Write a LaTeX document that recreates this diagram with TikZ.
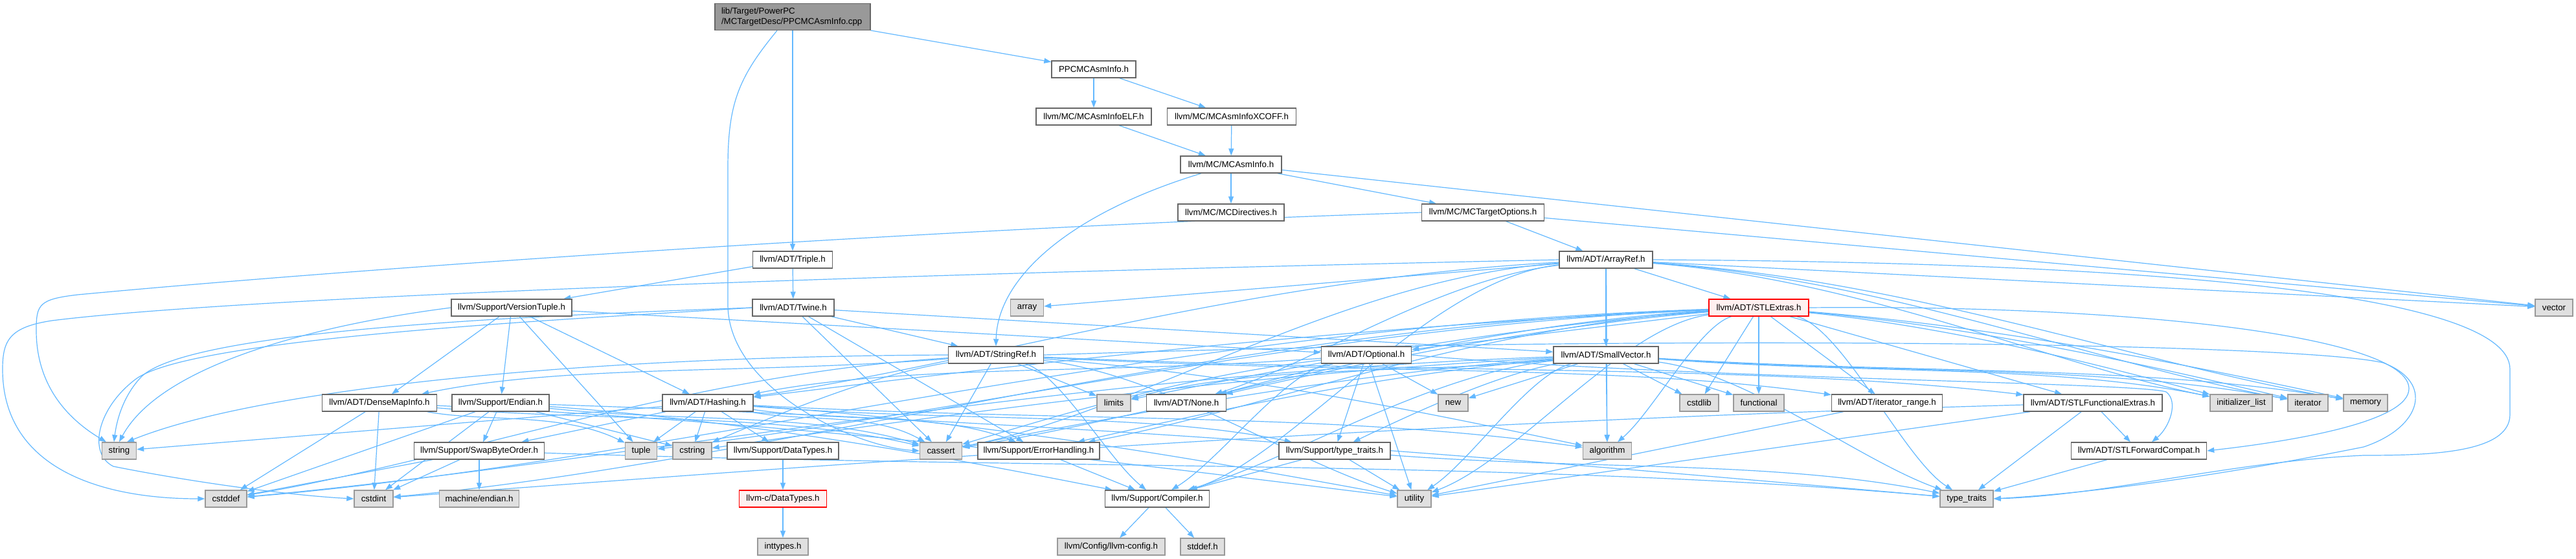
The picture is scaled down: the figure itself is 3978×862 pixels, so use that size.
\documentclass[tikz,border=0pt]{standalone}
\usepackage{fontspec}
\setmainfont{Liberation Sans}
\usetikzlibrary{arrows.meta,backgrounds,calc}
\definecolor{edgeblue}{HTML}{63B8FF}
\definecolor{boxborder}{HTML}{666666}
\definecolor{sysborder}{HTML}{999999}
\definecolor{sysfill}{HTML}{E0E0E0}
\definecolor{mainfill}{HTML}{999999}
\definecolor{redfill}{HTML}{FFF0F0}
\begin{document}
\begin{tikzpicture}[x=1pt,y=-1pt,
  box/.style={draw=boxborder, fill=white, line width=1.4pt, minimum height=26pt, inner sep=0pt, font=\fontsize{13.3}{16}\selectfont},
  sys/.style={box, draw=sysborder, fill=sysfill},
  trunc/.style={box, draw=red, fill=redfill},
  e/.style={draw=edgeblue, line width=1.2pt, -{Triangle[length=11pt,width=8pt]}},
  longe/.style={e, to path={.. controls ($(\tikztostart)!0.4!(\tikztotarget|-\tikztostart)+(0,30)$) and ($(\tikztotarget)!0.3!(\tikztostart|-\tikztotarget)+(0,-60)$) .. (\tikztotarget)}},
]
\useasboundingbox (0,0) rectangle (3978,862);
% nodes
\node[box, fill=mainfill, minimum width=240pt, minimum height=41pt, text width=220pt, align=left] (main) at (1224,26) {lib/Target/PowerPC\\/MCTargetDesc/PPCMCAsmInfo.cpp};
\node[box, minimum width=130pt] (ppc) at (1689,107) {PPCMCAsmInfo.h};
\node[box, minimum width=178pt] (elf) at (1689,180) {llvm/MC/MCAsmInfoELF.h};
\node[box, minimum width=199pt] (xcoff) at (1902,180) {llvm/MC/MCAsmInfoXCOFF.h};
\node[box, minimum width=156pt] (mcasm) at (1901,254) {llvm/MC/MCAsmInfo.h};
\node[box, minimum width=164pt] (mcdir) at (1901,328) {llvm/MC/MCDirectives.h};
\node[box, minimum width=189pt] (mcto) at (2290,328) {llvm/MC/MCTargetOptions.h};
\node[box, minimum width=123pt] (triple) at (1224,401) {llvm/ADT/Triple.h};
\node[box, minimum width=144pt] (arrayref) at (2480,401) {llvm/ADT/ArrayRef.h};
\node[box, minimum width=186pt] (version) at (790,475) {llvm/Support/VersionTuple.h};
\node[box, minimum width=126pt] (twine) at (1225,475) {llvm/ADT/Twine.h};
\node[sys, minimum width=51pt] (array) at (1586,475) {array};
\node[trunc, minimum width=154pt] (stlextras) at (2716,475) {llvm/ADT/STLExtras.h};
\node[sys, minimum width=58pt] (vector) at (3944,475) {vector};
\node[box, minimum width=147pt] (stringref) at (1538,548) {llvm/ADT/StringRef.h};
\node[box, minimum width=139pt] (optional) at (2110,548) {llvm/ADT/Optional.h};
\node[box, minimum width=162pt] (smallvec) at (2480,548) {llvm/ADT/SmallVector.h};
\node[box, minimum width=177pt] (densemap) at (586,622) {llvm/ADT/DenseMapInfo.h};
\node[box, minimum width=150pt] (endian) at (773,622) {llvm/Support/Endian.h};
\node[box, minimum width=140pt] (hashing) at (1093,622) {llvm/ADT/Hashing.h};
\node[sys, minimum width=52pt] (limits) at (1720,622) {limits};
\node[box, minimum width=123pt] (none) at (1832,622) {llvm/ADT/None.h};
\node[sys, minimum width=46pt] (new) at (2244,622) {new};
\node[sys, minimum width=60pt] (cstdlib) at (2624,622) {cstdlib};
\node[sys, minimum width=78pt] (functional) at (2716,622) {functional};
\node[box, minimum width=171pt] (iterrange) at (2914,622) {llvm/ADT/iterator\_range.h};
\node[box, minimum width=214pt] (stlfunc) at (3232,622) {llvm/ADT/STLFunctionalExtras.h};
\node[sys, minimum width=96pt] (initlist) at (3461,622) {initializer\_list};
\node[sys, minimum width=62pt] (iterator) at (3564,622) {iterator};
\node[sys, minimum width=68pt] (memory) at (3653,622) {memory};
\node[sys, minimum width=53pt] (string) at (184,696) {string};
\node[box, minimum width=201pt] (swap) at (740,696) {llvm/Support/SwapByteOrder.h};
\node[sys, minimum width=49pt] (tuple) at (990,696) {tuple};
\node[sys, minimum width=60pt] (cstring) at (1069,696) {cstring};
\node[box, minimum width=172pt] (datatypes) at (1209,696) {llvm/Support/DataTypes.h};
\node[sys, minimum width=65pt] (cassert) at (1453,696) {cassert};
\node[box, minimum width=188pt] (errhand) at (1604,696) {llvm/Support/ErrorHandling.h};
\node[box, minimum width=172pt] (typetraitsh) at (2061,696) {llvm/Support/type\_traits.h};
\node[sys, minimum width=75pt] (algorithm) at (2482,696) {algorithm};
\node[box, minimum width=209pt] (stlfwd) at (3303,696) {llvm/ADT/STLForwardCompat.h};
\node[sys, minimum width=64pt] (cstddef) at (349,770) {cstddef};
\node[sys, minimum width=60pt] (cstdint) at (577,770) {cstdint};
\node[sys, minimum width=123pt] (machine) at (740,770) {machine/endian.h};
\node[trunc, minimum width=135pt] (cdatatypes) at (1209,770) {llvm-c/DataTypes.h};
\node[box, minimum width=161pt] (compiler) at (1787,770) {llvm/Support/Compiler.h};
\node[sys, minimum width=52pt] (utility) at (2184,770) {utility};
\node[sys, minimum width=82pt] (typetraits) at (3037,770) {type\_traits};
\node[sys, minimum width=78pt] (inttypes) at (1209,844) {inttypes.h};
\node[sys, minimum width=166pt] (llvmconfig) at (1716,844) {llvm/Config/llvm-config.h};
\node[sys, minimum width=68pt] (stddef) at (1857,844) {stddef.h};
% edges
\begin{pgfonlayer}{background}
\foreach \a/\b in {main/ppc, main/triple, ppc/elf, ppc/xcoff, elf/mcasm, xcoff/mcasm,
  mcasm/mcdir, mcasm/mcto, mcasm/vector, mcto/arrayref, mcto/vector, arrayref/vector,
  triple/twine, triple/version,
  arrayref/stlextras, arrayref/smallvec, arrayref/array,
  stlextras/optional, stlextras/cstdlib, stlextras/functional, stlextras/iterrange, stlextras/stlfunc,
  stringref/limits, stringref/cassert,
  optional/new, optional/none, optional/typetraitsh, optional/utility,
  smallvec/new, smallvec/cstdlib, smallvec/algorithm, smallvec/functional,
  twine/stringref, twine/errhand, twine/cassert, twine/smallvec,
  version/densemap, version/endian, version/tuple, version/hashing, version/optional,
  densemap/cstddef, densemap/cstdint,
  endian/swap, endian/cstring, endian/cstddef, endian/cstdint,
  swap/machine, swap/cstddef, swap/cstdint,
  hashing/datatypes, hashing/swap, hashing/tuple, hashing/cstring, hashing/string,
  datatypes/cdatatypes, cdatatypes/inttypes, errhand/compiler, compiler/llvmconfig, compiler/stddef,
  typetraitsh/compiler, typetraitsh/utility, iterrange/utility,
  stlfunc/stlfwd, stlfunc/typetraits, stlfunc/utility, stlfwd/typetraits}
  {\draw[e] (\a) -- (\b);}
\foreach \a/\b in {arrayref/hashing, arrayref/none, arrayref/compiler, arrayref/algorithm,
  arrayref/cassert, arrayref/initlist, arrayref/iterator, arrayref/memory,
  stlextras/hashing, stlextras/none, stlextras/errhand, stlextras/algorithm, stlextras/cassert,
  stlextras/cstddef, stlextras/cstdint, stlextras/initlist, stlextras/iterator, stlextras/limits,
  stlextras/memory, stlextras/tuple, stlextras/typetraits, stlextras/utility,
  stringref/densemap, stringref/stlfunc, stringref/iterrange, stringref/compiler,
  stringref/algorithm, stringref/cstddef, stringref/cstring, stringref/utility,
  optional/hashing, optional/compiler, optional/cassert,
  smallvec/compiler, smallvec/errhand, smallvec/typetraitsh, smallvec/cassert, smallvec/cstddef,
  smallvec/cstring, smallvec/initlist, smallvec/iterator, smallvec/limits, smallvec/memory,
  smallvec/typetraits, smallvec/utility,
  densemap/cassert, densemap/tuple, densemap/utility,
  endian/compiler, endian/cassert, endian/typetraits, swap/typetraits,
  hashing/errhand, hashing/typetraitsh, hashing/algorithm, hashing/cassert, hashing/utility,
  typetraitsh/typetraits, stlfunc/cstdint}
  {\draw[longe] (\a) to (\b);}
% routed edges
\draw[e] ([xshift=-24pt]main.south) .. controls (1140,120) and (1124,160) .. (1124,260) -- (1124,470) .. controls (1124,600) and (1320,690) .. (cassert.west);
\draw[e] ([xshift=-46pt]mcasm.south) .. controls (1650,330) and (1540,430) .. (stringref.north);
\draw[e] (mcto.west) .. controls (1500,350) and (600,410) .. (120,455) .. controls (60,462) and (56,470) .. (56,510) .. controls (56,600) and (110,650) .. ([xshift=-20pt]string.north);
\draw[e] (arrayref.west) .. controls (1500,420) and (400,455) .. (80,495) .. controls (15,505) and (4,525) .. (4,570) .. controls (4,720) and (150,770) .. (cstddef.west);
\draw[e] (twine.west) .. controls (900,492) and (300,520) .. (210,585) .. controls (150,630) and (135,700) .. (175,720) .. controls (300,745) and (450,765) .. (cstdint.west);
\draw[e] (twine.west) .. controls (800,488) and (300,510) .. (220,580) .. controls (190,610) and (180,650) .. ([xshift=-8pt]string.north);
\draw[e] (version.west) .. controls (500,500) and (250,560) .. (string.north);
\draw[e] (stringref.west) .. controls (900,550) and (400,600) .. ([xshift=12pt]string.north);
\draw[e] (stlextras.east) .. controls (3300,470) and (3720,520) .. (3720,600) .. controls (3720,650) and (3550,680) .. (stlfwd.east);
\draw[e] (stringref.east) .. controls (2600,515) and (3550,530) .. (3680,560) .. controls (3760,590) and (3740,660) .. (3650,690) .. controls (3450,730) and (3250,760) .. (typetraits.east);
\draw[e] (arrayref.east) .. controls (3300,405) and (3876,450) .. (3876,570) -- (3876,640) .. controls (3876,700) and (3750,703) .. (3650,703) .. controls (3450,712) and (3250,765) .. (typetraits.east);
\draw[e] (optional.east) .. controls (2600,585) and (3300,590) .. (3345,605) .. controls (3365,620) and (3350,660) .. ([xshift=20pt]stlfwd.north);
\end{pgfonlayer}
\end{tikzpicture}
\end{document}
